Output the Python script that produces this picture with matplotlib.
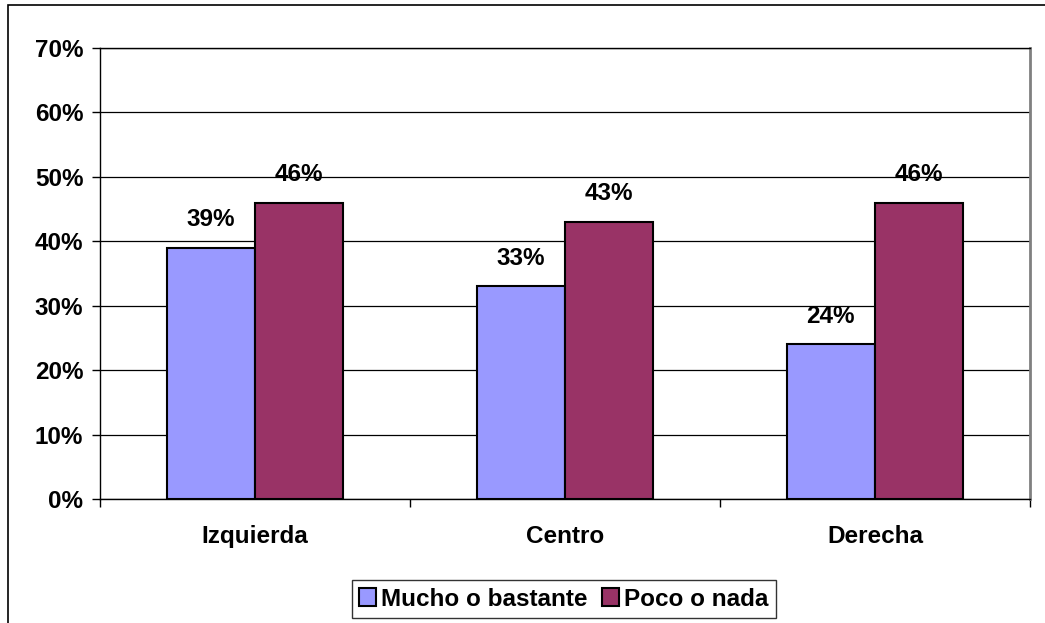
import numpy as np
import matplotlib
matplotlib.use("Agg")
import matplotlib.pyplot as plt
from matplotlib.patches import Rectangle
from matplotlib.ticker import FixedLocator, PercentFormatter

categories = ['Izquierda', 'Centro', 'Derecha']
series_names = ['Mucho o bastante', 'Poco o nada']
mucho = [39, 33, 24]
poco = [46, 43, 46]
yticks = [0, 10, 20, 30, 40, 50, 60, 70]

plt.rcParams['font.family'] = ['Liberation Sans', 'DejaVu Sans']
plt.rcParams['font.weight'] = 'bold'
fs = 17.5

fig = plt.figure(figsize=(10.45, 6.23), dpi=100)
# outer chart border (only left/top visible in the reference)
fig.patches.append(Rectangle((8 / 1045, -0.1), 1.2, 1.1 - 5 / 623,
                             transform=fig.transFigure, fill=False,
                             edgecolor='black', linewidth=1.2))

ax = fig.add_axes([100 / 1045, 1 - 499 / 623, 930 / 1045, 451 / 623])

x = np.arange(len(categories)) + 0.5
w = 0.285
b1 = ax.bar(x - w / 2, mucho, w, color='#9999FF', edgecolor='black', linewidth=1.5,
            label=series_names[0], zorder=3)
b2 = ax.bar(x + w / 2, poco, w, color='#993366', edgecolor='black', linewidth=1.5,
            label=series_names[1], zorder=3)

for bars, vals in ((b1, mucho), (b2, poco)):
    for r, v in zip(bars, vals):
        ax.annotate(f'{v}%', (r.get_x() + r.get_width() / 2, v),
                    xytext=(0, 12), textcoords='offset points',
                    ha='center', va='bottom', fontsize=fs, fontweight='bold', zorder=4)

ax.set_xlim(0, 3)
ax.set_ylim(0, 70)
ax.set_yticks(yticks)
ax.yaxis.set_major_formatter(PercentFormatter(decimals=0))
ax.grid(axis='y', color='black', linewidth=0.9, zorder=0)
ax.set_axisbelow(True)

ax.set_xticks(x)
ax.set_xticklabels(categories)
ax.xaxis.set_minor_locator(FixedLocator([0, 1, 2, 3]))
ax.tick_params(axis='x', which='major', length=0, pad=19, labelsize=fs)
ax.tick_params(axis='x', which='minor', length=6, width=1, direction='out')
ax.tick_params(axis='y', length=6, width=1, pad=6, labelsize=fs)

for s in ['left', 'bottom', 'top']:
    ax.spines[s].set_color('black')
    ax.spines[s].set_linewidth(1)
ax.spines['right'].set_color('#808080')
ax.spines['right'].set_linewidth(2)

leg = fig.legend(handles=[b1, b2], loc='center', bbox_to_anchor=(564 / 1045, 1 - 599 / 623),
                 ncol=2, frameon=True, fancybox=False, fontsize=fs,
                 handlelength=0.7, handleheight=0.7, handletextpad=0.2,
                 columnspacing=0.6, borderpad=0.3, borderaxespad=0)
leg.get_frame().set_edgecolor('black')
leg.get_frame().set_linewidth(1)

fig.savefig('out.png', dpi=100)
